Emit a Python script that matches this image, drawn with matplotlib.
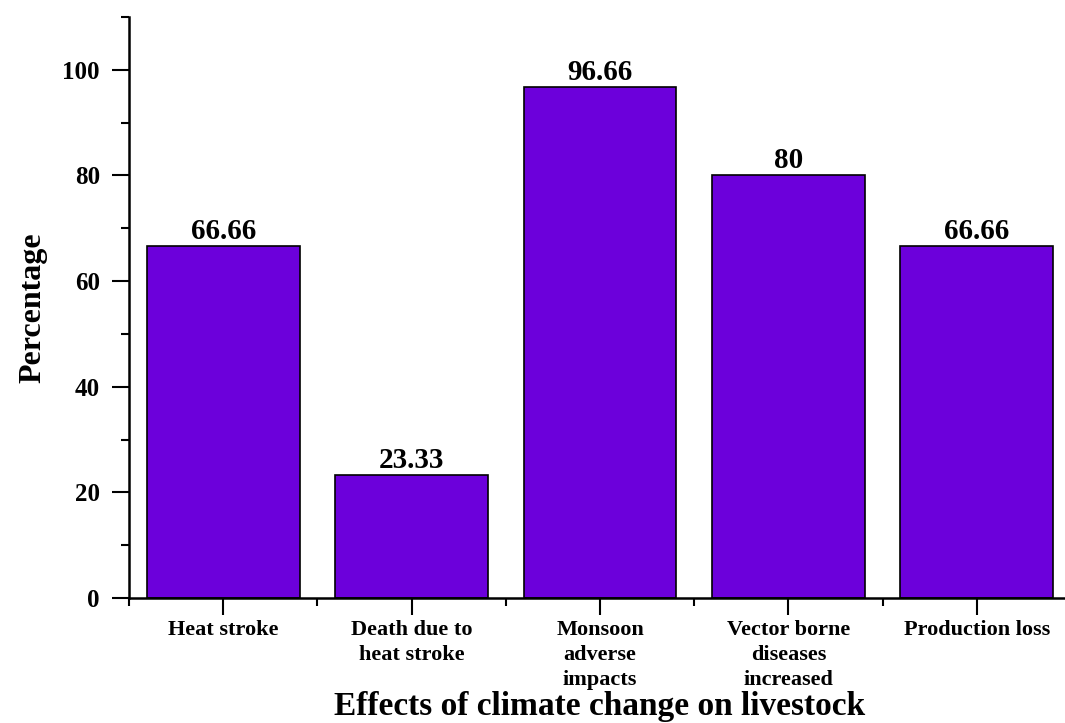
import matplotlib.pyplot as plt
from matplotlib.ticker import MultipleLocator, FixedLocator

categories = ["Heat stroke", "Death due to\nheat stroke", "Monsoon\nadverse\nimpacts",
              "Vector borne\ndiseases\nincreased", "Production loss"]
values = [66.66, 23.33, 96.66, 80, 66.66]
value_labels = ["66.66", "23.33", "96.66", "80", "66.66"]

plt.rcParams['font.family'] = ['Liberation Serif', 'DejaVu Serif']
plt.rcParams['font.weight'] = 'bold'

fig = plt.figure(figsize=(10.65, 7.23), dpi=100)
ax = fig.add_axes([129 / 1065, 125 / 723, 942 / 1065, 581 / 723])

x = list(range(len(categories)))
ax.bar(x, values, width=0.81, color='#6c00db', edgecolor='black', linewidth=1.2)

for xi, v, lab in zip(x, values, value_labels):
    ax.text(xi, v + 0.2, lab, ha='center', va='bottom', fontsize=21, fontweight='bold')

ax.set_xlim(-0.5, 4.5)
ax.set_ylim(0, 110)
ax.set_xticks(x)
ax.set_xticklabels(categories, fontsize=16, fontweight='bold', linespacing=1.32)
ax.xaxis.set_minor_locator(FixedLocator([i + 0.5 for i in range(-1, 5)]))
ax.yaxis.set_major_locator(MultipleLocator(20))
ax.yaxis.set_minor_locator(MultipleLocator(10))
for lbl in ax.get_yticklabels():
    lbl.set_fontsize(18)
    lbl.set_fontweight('bold')

ax.tick_params(which='major', direction='out', length=12, width=1.5)
ax.tick_params(which='minor', direction='out', length=6, width=1.5)
ax.tick_params(axis='y', which='major', pad=9)
ax.tick_params(axis='x', which='major', pad=4)

ax.spines['top'].set_visible(False)
ax.spines['right'].set_visible(False)
ax.spines['left'].set_linewidth(1.8)
ax.spines['bottom'].set_linewidth(1.8)

ax.set_ylabel("Percentage", fontsize=23, fontweight='bold', labelpad=11)
ax.set_xlabel("Effects of climate change on livestock", fontsize=24, fontweight='bold',
              va='baseline')
ax.xaxis.set_label_coords(0.5, -0.201)

fig.savefig("out.png", dpi=100)
